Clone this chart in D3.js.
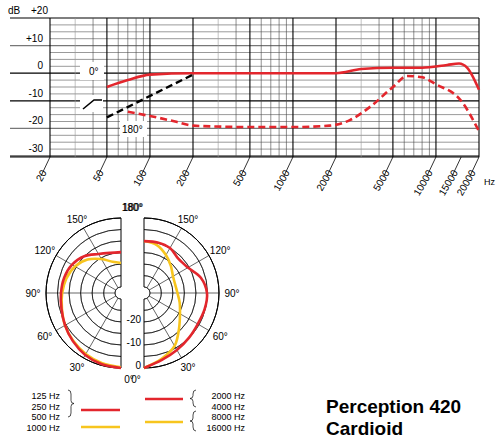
<!DOCTYPE html>
<html><head><meta charset="utf-8">
<script src="https://cdn.jsdelivr.net/npm/d3@7"></script>
<style>body{margin:0;background:#fff}text{font-family:"Liberation Sans",Arial,sans-serif}</style>
</head><body>
<svg width="500" height="444"></svg>
<script>
// ---- frequency response data ----
const freqTicks = [20, 50, 100, 200, 500, 1000, 2000, 5000, 10000, 15000, 20000];
const dbTicks = [20, 10, 0, -10, -20, -30];
const resp0Freq = [50, 70, 100, 200, 1000, 2000, 3000, 5000, 8000, 12000, 14500, 16500, 20000];
const resp0Db = [-5, -2.5, -0.5, 0, 0, 0, 1.5, 2, 2, 3, 3.5, 2, -6];
const resp180Freq = [70, 100, 150, 200, 500, 1000, 1800, 2500, 3500, 5000, 6300, 8000, 10000, 15000, 20000];
const resp180Db = [-14, -15.5, -17.5, -19, -19.5, -19.5, -19, -17, -12, -5, -1, -1.5, -4, -10, -21];
const lowCutFreq = [50, 200];
const lowCutDb = [-16, -0.5];

// ---- polar data (angle in degrees, level in dB) ----
const polarAngles = [0, 30, 60, 90, 120, 150, 180];
const curveAngles = [0, 15, 30, 45, 60, 75, 90, 105, 120, 135, 150, 165, 180];
const lowRed = [0, -0.5, -1.5, -3, -4.5, -5.8, -6.5, -7, -8, -10, -13, -14.5, -14.8];
const lowYellow = [-0.3, -1, -2, -3.2, -4.5, -6, -7, -8, -9.5, -12, -15.5, -18.5, -19.5];
const highRed = [0, -2.5, -4, -5, -5.6, -5.3, -5.2, -7, -10.5, -11.5, -10, -9.8, -10];
const highYellow = [0, -3, -6, -11, -14.5, -16.5, -18, -18.5, -18, -16, -13.5, -11, -10];
const polarRings = [0, -5, -10, -15, -20, -25];
const legendLeft = ["125 Hz", "250 Hz", "500 Hz", "1000 Hz"];
const legendRight = ["2000 Hz", "4000 Hz", "8000 Hz", "16000 Hz"];

const RED = "#e3262d", YEL = "#f7c51e";
const svg = d3.select("svg");

// ================= frequency response =================
const x = d3.scaleLog().domain([20, 20000]).range([50, 479]);
const y = d3.scaleLinear().domain([20, -30]).range([18, 156]);
const g = svg.append("g");

// horizontal grid
for (let v = -30; v <= 20; v += 2.5) {
  const major = v % 10 === 0;
  g.append("line").attr("x1", major ? 10 : 50).attr("x2", 479)
    .attr("y1", y(v)).attr("y2", y(v))
    .attr("stroke", major ? (v === 10 || v === -20 ? "#777" : "#000") : "#555")
    .attr("stroke-width", major ? 1.2 : 0.6);
}
g.append("line").attr("x1", 10).attr("x2", 479).attr("y1", 157).attr("y2", 157).attr("stroke", "#000");
// vertical grid
const minor = [];
[10, 100, 1000, 10000].forEach(d => { for (let k = 1; k < 10; k++) { const f = d * k; if (f >= 20 && f <= 20000) minor.push(f); } });
minor.forEach(f => {
  const major = freqTicks.includes(f);
  g.append("line").attr("x1", x(f)).attr("x2", x(f)).attr("y1", 18).attr("y2", 157)
    .attr("stroke", major ? (f === 15000 ? "#666" : "#000") : ([30, 300, 3000].includes(f) ? "#999" : "#444"))
    .attr("stroke-width", major ? 1.1 : 0.6);
});
// db labels
dbTicks.forEach(v => {
  g.append("text").attr("x", v === 20 ? 48 : 43).attr("y", y(v) - 4).attr("text-anchor", "end")
    .attr("font-size", 10).text(v > 0 ? "+" + v : v);
});
g.append("text").attr("x", 8).attr("y", 14).attr("font-size", 10).text("dB");
// freq tick labels
freqTicks.forEach(f => {
  g.append("line").attr("x1", x(f)).attr("y1", 157).attr("x2", x(f) - 9).attr("y2", 176).attr("stroke", "#000").attr("stroke-width", 0.8);
  g.append("text").attr("transform", `translate(${x(f) - 9},${169}) rotate(-60)`)
    .attr("text-anchor", "end").attr("dy", "0.7em").attr("font-size", 10).text(f);
});
g.append("text").attr("x", 484).attr("y", 185).attr("font-size", 9).text("Hz");

const line = d3.line().x(d => x(d[0])).y(d => y(d[1])).curve(d3.curveMonotoneX);
g.append("path").datum(d3.zip(resp0Freq, resp0Db)).attr("d", line)
  .attr("fill", "none").attr("stroke", RED).attr("stroke-width", 2.6);
g.append("path").datum(d3.zip(resp180Freq, resp180Db)).attr("d", line)
  .attr("fill", "none").attr("stroke", RED).attr("stroke-width", 2.6).attr("stroke-dasharray", "7,4");
g.append("path").datum(d3.zip(lowCutFreq, lowCutDb)).attr("d", d3.line().x(d => x(d[0])).y(d => y(d[1])))
  .attr("fill", "none").attr("stroke", "#000").attr("stroke-width", 2.4).attr("stroke-dasharray", "7,4");

// label boxes
function box(x0, y0, w, h) { g.append("rect").attr("x", x0).attr("y", y0).attr("width", w).attr("height", h).attr("fill", "#fff"); }
box(80, 62, 24, 18);
g.append("text").attr("x", 89).attr("y", 75).attr("font-size", 10).text("0°");
box(80, 95, 23, 17);
g.append("path").attr("d", "M83,109 L94,100 L102,100").attr("fill", "none").attr("stroke", "#000").attr("stroke-width", 1.6);
box(120, 121, 27, 16);
g.append("text").attr("x", 122).attr("y", 133).attr("font-size", 10).text("180°");

// ================= polar =================
const R = 75, rr = d3.scaleLinear().domain([-32.5, 0]).range([0, R]);
function half(cx, s, series) {
  const p = svg.append("g").attr("transform", `translate(${cx},293)`);
  polarRings.forEach(v => {
    const r = rr(v);
    p.append("path").attr("d", d3.arc()({ innerRadius: r, outerRadius: r, startAngle: 0, endAngle: s * Math.PI }))
      .attr("fill", "none").attr("stroke", "#000").attr("stroke-width", v === 0 ? 1 : 0.6);
  });
  p.append("path").attr("d", d3.arc()({ innerRadius: 6, outerRadius: 6, startAngle: 0, endAngle: s * Math.PI }))
    .attr("fill", "none").attr("stroke", "#000").attr("stroke-width", 0.6);
  polarAngles.forEach(a => {
    const t = a * Math.PI / 180;
    const dx = s * Math.sin(t), dy = Math.cos(t);
    p.append("line").attr("x1", dx * 6).attr("y1", dy * 6).attr("x2", dx * R).attr("y2", dy * R)
      .attr("stroke", "#000").attr("stroke-width", a === 0 || a === 180 ? 1 : 0.6);
    const off = a === 180 ? -s * 11 : a === 0 ? -s * 8 : 0;
    p.append("text").attr("x", dx * 88 + off).attr("y", dy * 86 + 4)
      .attr("text-anchor", "middle").attr("font-size", 10).text(a + "°");
  });
  series.forEach(([vals, col]) => {
    const rl = d3.lineRadial().angle(d => Math.PI - s * d[0] * Math.PI / 180).radius(d => rr(d[1])).curve(d3.curveCatmullRom);
    p.append("path").datum(d3.zip(curveAngles, vals)).attr("d", rl)
      .attr("fill", "none").attr("stroke", col).attr("stroke-width", 2.6);
  });
  return p;
}
half(121, -1, [[lowYellow, YEL], [lowRed, RED]]);
const pr = half(144, 1, [[highYellow, YEL], [highRed, RED]]);
[-20, -10, 0].forEach(v => {
  pr.append("rect").attr("x", -22).attr("y", rr(v) - 9).attr("width", 20).attr("height", 12).attr("fill", "#fff");
  pr.append("text").attr("x", -3).attr("y", rr(v) + 1).attr("text-anchor", "end").attr("font-size", 10).text(v);
});

// ================= legend =================
const L = svg.append("g").attr("font-size", 9);
legendLeft.forEach((t, i) => L.append("text").attr("x", 60).attr("y", 399 + i * 10.5).attr("text-anchor", "end").text(t));
legendRight.forEach((t, i) => L.append("text").attr("x", 245).attr("y", 399 + i * 10.5).attr("text-anchor", "end").text(t));
function brace(xb, y0, y1, dir) {
  const m = (y0 + y1) / 2;
  L.append("path").attr("d", `M${xb},${y0} q${dir*3},0 ${dir*3},4 L${xb+dir*3},${m-3} q0,3 ${dir*3},3 q${-dir*3},0 ${-dir*3},3 L${xb+dir*3},${y1-4} q0,4 ${-dir*3},4`)
    .attr("fill", "none").attr("stroke", "#000").attr("stroke-width", 0.7);
}
brace(68, 390, 417, 1);
brace(196, 390, 407, -1);
brace(196, 411, 431, -1);
L.append("line").attr("x1", 81).attr("x2", 120).attr("y1", 410).attr("y2", 410).attr("stroke", RED).attr("stroke-width", 2.6);
L.append("line").attr("x1", 81).attr("x2", 120).attr("y1", 427).attr("y2", 427).attr("stroke", YEL).attr("stroke-width", 2.6);
L.append("line").attr("x1", 145).attr("x2", 183).attr("y1", 399).attr("y2", 399).attr("stroke", RED).attr("stroke-width", 2.6);
L.append("line").attr("x1", 145).attr("x2", 183).attr("y1", 422).attr("y2", 422).attr("stroke", YEL).attr("stroke-width", 2.6);

svg.append("text").attr("x", 326).attr("y", 413).attr("font-size", 19).attr("font-weight", "bold").text("Perception 420");
svg.append("text").attr("x", 326).attr("y", 435).attr("font-size", 19).attr("font-weight", "bold").text("Cardioid");
</script>
</body></html>
